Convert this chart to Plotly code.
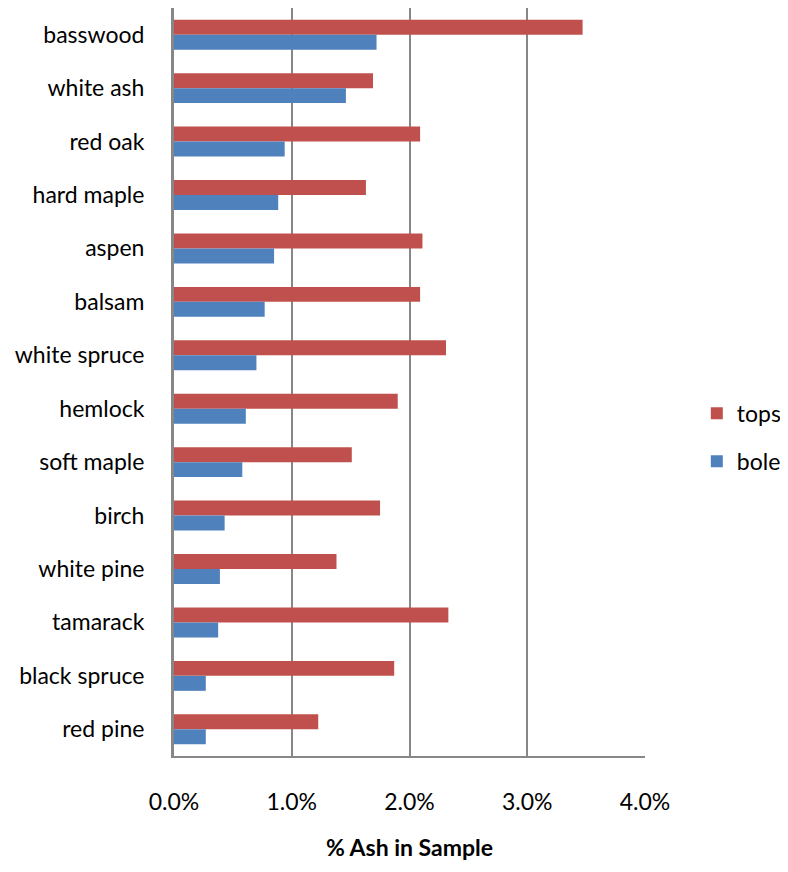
import plotly.graph_objects as go

species = ["basswood", "white ash", "red oak", "hard maple", "aspen", "balsam",
           "white spruce", "hemlock", "soft maple", "birch", "white pine",
           "tamarack", "black spruce", "red pine"]
tops = [3.47, 1.69, 2.09, 1.63, 2.11, 2.09, 2.31, 1.90, 1.51, 1.75, 1.38, 2.33, 1.87, 1.225]
bole = [1.72, 1.46, 0.94, 0.885, 0.85, 0.77, 0.70, 0.61, 0.58, 0.43, 0.39, 0.375, 0.27, 0.27]
x_ticks = [0, 1, 2, 3, 4]
x_tick_labels = ["0.0%", "1.0%", "2.0%", "3.0%", "4.0%"]

font = "Lato"

fig = go.Figure()
fig.add_trace(go.Bar(y=species, x=tops, name="tops", orientation="h",
                     legendgroup="tops",
                     marker=dict(color="#C0504D", line=dict(width=0))))
fig.add_trace(go.Bar(y=species, x=bole, name="bole", orientation="h",
                     legendgroup="bole",
                     marker=dict(color="#4F81BD", line=dict(width=0))))

fig.update_layout(
    width=780, height=864,
    margin=dict(l=166, r=143, t=0, b=116, autoexpand=False),
    paper_bgcolor="white", plot_bgcolor="white",
    barmode="group", bargap=0.44, bargroupgap=0,
    font=dict(family=font, size=23, color="#000000"),
    legend=dict(x=1.11, y=0.426, xanchor="left", yanchor="middle",
                font=dict(family=font, size=23), itemwidth=30,
                tracegroupgap=15, traceorder="grouped"),
    xaxis=dict(range=[0, 4], tickvals=x_ticks, ticktext=x_tick_labels,
               showgrid=True, gridcolor="#878787", gridwidth=2,
               showline=True, linecolor="#878787", linewidth=2,
               zeroline=False, ticks="", ticklabelstandoff=24,
               automargin=False,
               tickfont=dict(family=font, size=23),
               title=dict(text="<b>% Ash in Sample</b>", standoff=26,
                          font=dict(family=font, size=23))),
    yaxis=dict(autorange="reversed", showgrid=False,
               showline=True, linecolor="#878787", linewidth=3,
               ticks="", ticklabelstandoff=22, automargin=False,
               tickfont=dict(family=font, size=23)),
)

fig.write_html("out.html")
